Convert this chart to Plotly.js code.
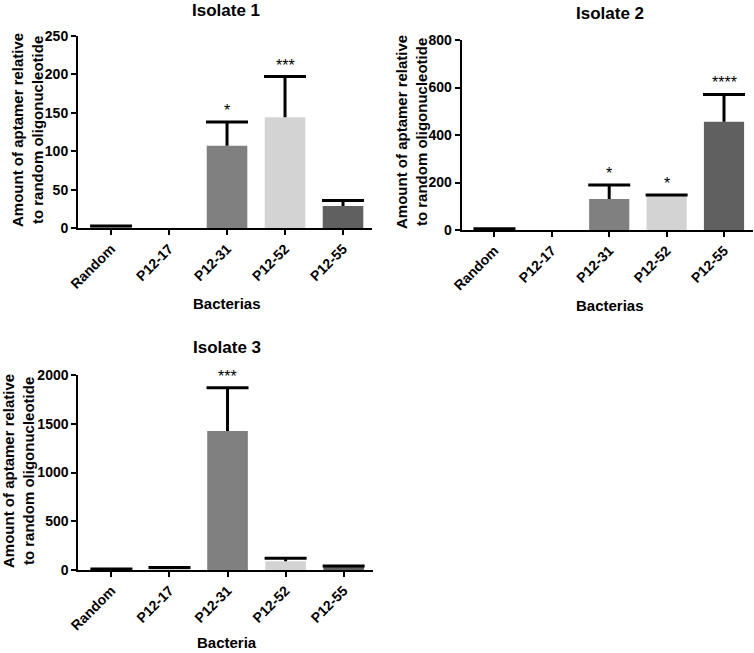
<!DOCTYPE html>
<html>
<head>
<meta charset="utf-8">
<script src="https://cdn.plot.ly/plotly-3.0.1.min.js"></script>
<style>html,body{margin:0;padding:0;background:#fff;}#chart{width:754px;height:653px;}</style>
</head>
<body>
<div id="chart"></div>
<script>
// ---- data ----
const categories = ["Random", "P12-17", "P12-31", "P12-52", "P12-55"];
const barColors = ["#d4d4d4", "#d4d4d4", "#808080", "#d3d3d3", "#606060"];

const isolate1Values = [2, 0, 107, 144, 29];
const isolate1Errors = [1, 0, 31, 53, 7];
const isolate1Stars  = ["", "", "*", "***", ""];

const isolate2Values = [4, 0, 131, 143, 456];
const isolate2Errors = [1, 0, 58, 4, 115];
const isolate2Stars  = ["", "", "*", "*", "****"];

const isolate3Values = [6, 14, 1425, 89, 32];
const isolate3Errors = [3, 12, 445, 31, 9];
const isolate3Stars  = ["", "", "***", "", ""];

const panelTitles = ["Isolate 1", "Isolate 2", "Isolate 3"];
const xTitles = ["Bacterias", "Bacterias", "Bacteria"];
const yTitle = "Amount of aptamer relative<br>to random oligonucleotide";

// ---- build ----
const FONT = "Liberation Sans, Arial, Helvetica, sans-serif";
const panels = [
  {v: isolate1Values, e: isolate1Errors, s: isolate1Stars, xa: "x", ya: "y", range: [0, 250], dtick: 50},
  {v: isolate2Values, e: isolate2Errors, s: isolate2Stars, xa: "x2", ya: "y2", range: [0, 800], dtick: 200},
  {v: isolate3Values, e: isolate3Errors, s: isolate3Stars, xa: "x3", ya: "y3", range: [0, 2000], dtick: 500}
];

const traces = [];
panels.forEach(p => {
  // bars with upper error stems (no caps)
  traces.push({
    type: "bar", x: categories, y: p.v, xaxis: p.xa, yaxis: p.ya,
    width: 0.7,
    marker: {color: barColors, line: {width: 0}},
    error_y: {type: "data", symmetric: false, array: p.e, arrayminus: p.e.map(() => 0),
              color: "#000", thickness: 3, width: 0, visible: true},
    showlegend: false, hoverinfo: "x+y"
  });
  // top caps of the error bars
  traces.push({
    type: "scatter", mode: "markers", x: categories,
    y: p.v.map((v, i) => p.e[i] > 0 ? v + p.e[i] : null),
    xaxis: p.xa, yaxis: p.ya,
    marker: {symbol: "line-ew", size: 30, color: "#000", line: {width: 3, color: "#000"}},
    showlegend: false, hoverinfo: "skip", cliponaxis: false
  });
});

const annotations = [];
panels.forEach((p, i) => {
  p.s.forEach((txt, j) => {
    if (!txt) return;
    annotations.push({
      xref: p.xa, yref: p.ya, x: categories[j], y: p.v[j] + p.e[j],
      text: txt, showarrow: false, yanchor: "bottom", yshift: 1,
      font: {family: FONT, size: 16, color: "#000"}
    });
  });
});

function xaxis(domain, anchor) {
  return {
    domain: domain, anchor: anchor, type: "category",
    range: [-0.57, 4.5],
    showline: true, linecolor: "#000", linewidth: 2,
    ticks: "outside", ticklen: 5, tickwidth: 2, tickcolor: "#000",
    tickangle: -45, showgrid: false, zeroline: false,
    tickfont: {family: FONT, size: 14, color: "#000", weight: "bold"},
    fixedrange: true
  };
}
function yaxis(domain, p, anchor) {
  return {
    domain: domain, anchor: anchor,
    range: p.range, dtick: p.dtick, tick0: 0,
    showline: true, linecolor: "#000", linewidth: 2,
    ticks: "outside", ticklen: 5, tickwidth: 2, tickcolor: "#000",
    showgrid: false, zeroline: false,
    tickfont: {family: FONT, size: 14, color: "#000", weight: "bold"},
    fixedrange: true
  };
}

const W = 754, H = 653;
const dx = (a, b) => [a / W, b / W];
const dy = (top, bottom) => [1 - bottom / H, 1 - top / H];
const px = x => x / W, py = y => 1 - y / H;

function paperText(text, x, y, size, angle) {
  return {xref: "paper", yref: "paper", x: px(x), y: py(y), xanchor: "center", yanchor: "middle",
          text: text, showarrow: false, textangle: angle || 0,
          font: {family: FONT, size: size, color: "#000", weight: "bold"}};
}

const layout = {
  width: W, height: H,
  margin: {l: 0, r: 0, t: 0, b: 0},
  paper_bgcolor: "#fff", plot_bgcolor: "#fff",
  xaxis: xaxis(dx(78, 372), "y"),
  yaxis: yaxis(dy(35.7, 228.3), panels[0], "x"),
  xaxis2: xaxis(dx(461.7, 752.7), "y2"),
  yaxis2: yaxis(dy(40, 230), panels[1], "x2"),
  xaxis3: xaxis(dx(78.3, 372.7), "y3"),
  yaxis3: yaxis(dy(375, 570), panels[2], "x3"),
  annotations: annotations.concat([
    paperText(panelTitles[0], 226, 11, 17),
    paperText(panelTitles[1], 610, 14, 17),
    paperText(panelTitles[2], 227, 347, 17),
    paperText(xTitles[0], 227, 303, 15),
    paperText(xTitles[1], 610, 305, 15),
    paperText(xTitles[2], 227, 642, 15),
    paperText(yTitle, 27, 130, 15, -90),
    paperText(yTitle, 411, 132, 15, -90),
    paperText(yTitle, 18, 471, 15, -90)
  ])
};

Plotly.newPlot("chart", traces, layout, {displayModeBar: false, staticPlot: true});
</script>
</body>
</html>
